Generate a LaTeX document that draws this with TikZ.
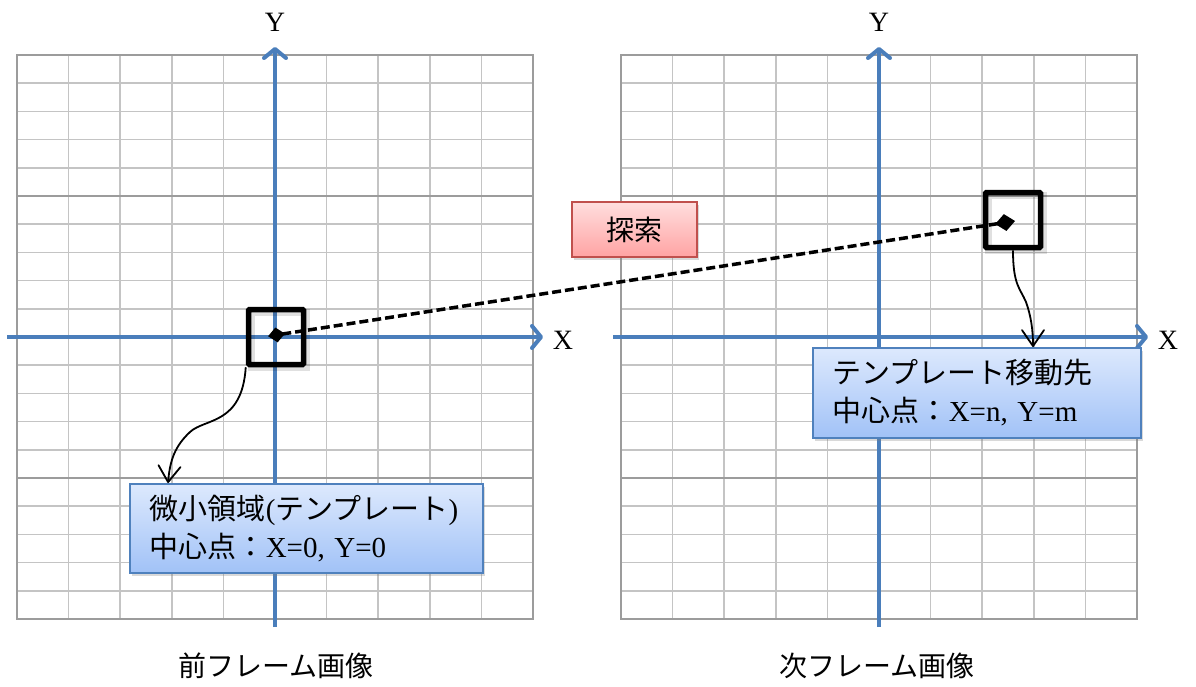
\documentclass[tikz,border=0pt]{standalone}
\usepackage{fontspec}
\setmainfont{Liberation Serif}
\newfontfamily\jp{Noto Sans CJK JP}
\usetikzlibrary{arrows.meta,shadows,calc}
\definecolor{axisblue}{HTML}{4A7EBB}
\definecolor{gridlight}{HTML}{C4C4C4}
\definecolor{griddark}{HTML}{9C9C9C}
\definecolor{bluetop}{HTML}{DDE9FD}
\definecolor{bluebot}{HTML}{A1C2F7}
\definecolor{blueedge}{HTML}{4F81BD}
\definecolor{redtop}{HTML}{FFDEDE}
\definecolor{redbot}{HTML}{FFA3A3}
\definecolor{rededge}{HTML}{C0504D}
\tikzset{
  gridl/.style={draw=gridlight,line width=1.5pt},
  gridd/.style={draw=griddark,line width=1.5pt},
  axisline/.style={draw=axisblue,line width=4pt,-{Straight Barb[length=9pt,width=22pt,round]}},
  axislabel/.style={font=\fontsize{28}{30}\selectfont,inner sep=0pt},
  tbox/.style={draw=black,line width=5.5pt,minimum size=55pt,inner sep=0pt,rounded corners=1pt},
  tshadow/.style={draw=black,opacity=0.12,line width=7pt,minimum size=55pt,inner sep=0pt},
  infobox/.style={draw=blueedge,line width=1.5pt,top color=bluetop,bottom color=bluebot,
    align=left,inner xsep=20pt,inner ysep=0pt,anchor=north west,
    font=\fontsize{29}{38}\selectfont,
    drop shadow={shadow xshift=2pt,shadow yshift=-3pt,opacity=0.3,fill=gray}},
  searchbox/.style={draw=rededge,line width=1.5pt,top color=redtop,bottom color=redbot,
    minimum width=125pt,minimum height=55pt,inner sep=0pt,font=\fontsize{28}{30}\selectfont,
    drop shadow={shadow xshift=2pt,shadow yshift=-3pt,opacity=0.3,fill=gray}},
  conn/.style={draw=black,line width=1.8pt,-{Straight Barb[length=16pt,width=22pt,round]}},
  searchline/.style={draw=black,line width=3.5pt,dash pattern=on 9pt off 4pt,
    {Diamond[length=17pt,width=15pt]}-{Diamond[length=20pt,width=17pt]}},
  caption/.style={font=\fontsize{28}{30}\selectfont\jp,inner sep=0pt}
}
\begin{document}
\begin{tikzpicture}[x=1pt,y=-1pt]
\useasboundingbox (0,0) rectangle (1196,686);
% grids
\foreach \ox in {17,621}{
  \begin{scope}[shift={(\ox,55)}]
    \foreach \i in {1,...,9} \draw[gridl] (\i*51.6,0) -- (\i*51.6,564);
    \foreach \j in {1,2,3,4,6,7,8,9,11,12,13,14,16,17,18,19} \draw[gridl] (0,\j*28.2) -- (516,\j*28.2);
    \foreach \j in {5,10,15} \draw[gridd] (0,\j*28.2) -- (516,\j*28.2);
    \draw[gridd,line width=2pt] (0,0) rectangle (516,564);
  \end{scope}
}
% axes, left
\coordinate (lxs) at (7,337);
\coordinate (lxe) at (543,337);
\coordinate (lys) at (275,627);
\coordinate (lye) at (275,47);
\draw[axisline] (lxs) -- (lxe);
\draw[axisline] (lys) -- (lye);
\node[axislabel] (lX) at (563,340) {X};
\node[axislabel] (lY) at (275,22) {Y};
% axes, right
\coordinate (rxs) at (613,337);
\coordinate (rxe) at (1148,337);
\coordinate (rys) at (879,627);
\coordinate (rye) at (879,47);
\draw[axisline] (rxs) -- (rxe);
\draw[axisline] (rys) -- (rye);
\node[axislabel] (rX) at (1168,340) {X};
\node[axislabel] (rY) at (879,22) {Y};
% template boxes
\node[tshadow] (t1s) at (279,340) {};
\node[tshadow] (t2s) at (1016,223) {};
\node[tbox] (t1) at (276,337) {};
\node[tbox] (t2) at (1013,220) {};
% search
\node[searchbox] (s) at (634.5,229.5) {\jp 探索};
\draw[searchline,shorten <=-8pt] ($(t1.center)+(0,-2)$) coordinate (d1) -- ($(t2.center)+(2,1)$) coordinate (d2);
% info boxes
\node[infobox,minimum width=353pt,minimum height=89pt,text width=313pt] (b1) at (129,483)
  {{\jp 微小領域}({\jp テンプレート})\\{\jp 中心点：}X=0, Y=0};
\node[infobox,minimum width=328pt,minimum height=90pt,text width=288pt] (b2) at (812,347)
  {{\jp テンプレート移動先}\\{\jp 中心点：}X=n, Y=m};
% connectors
\coordinate (c1) at ($(b1.north west)+(39,0)$);
\coordinate (c2) at ($(b2.north west)+(221,0)$);
\draw[conn] (t1.south west) .. controls (242,425) and (205,418) .. (190,432)
  .. controls (175,446) and (170,460) .. (c1);
\draw[conn] (t2.south) .. controls (1013,285) and (1020,288) .. (1026,302)
  .. controls (1031,316) and (1033,330) .. (c2);
% captions
\node[caption] (cap1) at (276,666) {前フレーム画像};
\node[caption] (cap2) at (877,666) {次フレーム画像};
\end{tikzpicture}
\end{document}
